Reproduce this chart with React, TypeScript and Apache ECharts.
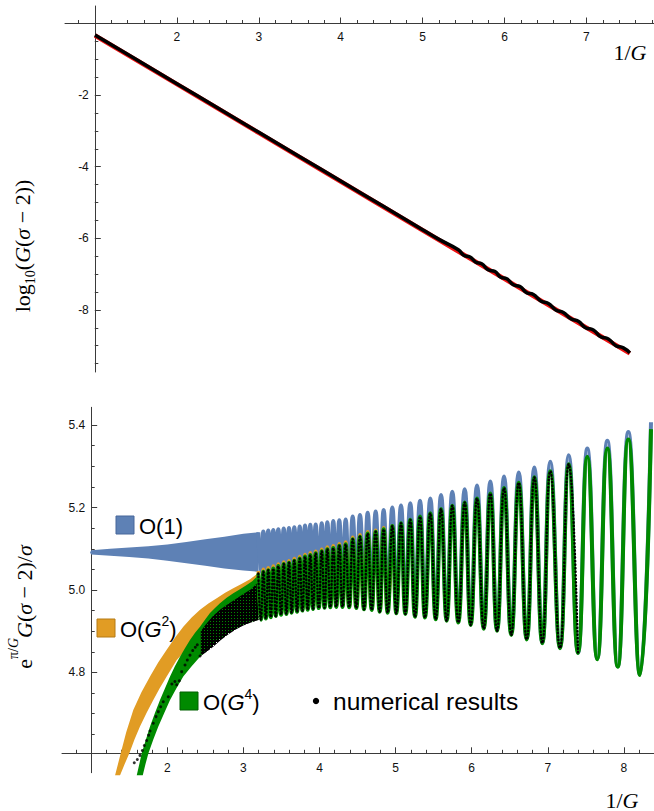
import React, { useEffect, useRef } from 'react';
import * as echarts from 'echarts';

// ---------------- TOP PANEL: log10(G(σ-2)) vs 1/G ----------------
const topNumerical: [number, number][] = [
  [1.0, -0.32], [1.5, -1.0], [2.0, -1.68], [2.5, -2.36], [3.0, -3.04], [3.5, -3.72],
  [4.0, -4.4], [4.5, -5.08], [5.0, -5.76], [5.2, -6.03],
  [5.436, -6.32], [5.507, -6.48], [5.579, -6.52], [5.65, -6.67], [5.721, -6.71], [5.8, -6.88],
  [5.884, -6.93], [5.955, -7.09], [6.027, -7.13], [6.108, -7.3], [6.189, -7.35], [6.27, -7.52],
  [6.352, -7.57], [6.443, -7.75], [6.535, -7.82], [6.626, -8.0], [6.718, -8.07], [6.81, -8.25],
  [6.901, -8.32], [6.99, -8.5], [7.084, -8.56], [7.175, -8.75], [7.267, -8.81], [7.36, -9.0],
  [7.451, -9.06], [7.53, -9.2],
];
const topAnalytic: [number, number][] = [
  [1.0, -0.335], [2.0, -1.695], [3.0, -3.055], [4.0, -4.415], [5.0, -5.775],
  [6.0, -7.135], [7.0, -8.495], [7.53, -9.215],
];

const topXMajorTicks = [1, 2, 3, 4, 5, 6, 7];
const topXLabels = [2, 3, 4, 5, 6, 7];
const topXMinorTicks = [0.8, 1.2, 1.4, 1.6, 1.8, 2.2, 2.4, 2.6, 2.8, 3.2, 3.4, 3.6, 3.8, 4.2, 4.4, 4.6, 4.8,
  5.2, 5.4, 5.6, 5.8, 6.2, 6.4, 6.6, 6.8, 7.2, 7.4, 7.6, 7.8];
const topYMajorTicks = [-2, -4, -6, -8];
const topYMinorTicks = [-0.5, -1, -1.5, -2.5, -3, -3.5, -4.5, -5, -5.5, -6.5, -7, -7.5, -8.5, -9, -9.5];

// ---------------- BOTTOM PANEL: e^{π/G} G(σ-2)/σ vs 1/G ----------------
// dense (unresolved) oscillation envelopes
const blueUpper: [number, number][] = [
  [0.985, 5.091], [1.0, 5.096], [1.25, 5.1], [1.5, 5.103], [1.75, 5.106], [2.0, 5.11], [2.25, 5.116],
  [2.5, 5.123], [2.75, 5.129], [3.0, 5.136], [3.2, 5.14],
];
const blueLower: [number, number][] = [
  [0.985, 5.091], [1.0, 5.086], [1.25, 5.083], [1.5, 5.08], [1.75, 5.076], [2.0, 5.071], [2.25, 5.065],
  [2.5, 5.059], [2.75, 5.052], [3.0, 5.047], [3.2, 5.044],
];
const orangeUpper: [number, number][] = [
  [1.313, 4.55], [1.388, 4.604], [1.46, 4.655], [1.553, 4.709], [1.66, 4.752], [1.773, 4.79], [1.88, 4.824],
  [1.992, 4.855], [2.1, 4.884], [2.21, 4.911], [2.32, 4.933], [2.43, 4.952], [2.54, 4.967], [2.649, 4.98],
  [2.76, 4.993], [2.867, 5.004], [2.98, 5.015], [3.087, 5.026], [3.2, 5.042],
];
const orangeLower: [number, number][] = [
  [1.378, 4.55], [1.44, 4.578], [1.501, 4.604], [1.57, 4.638], [1.641, 4.669], [1.73, 4.703], [1.816, 4.733],
  [1.9, 4.762], [1.992, 4.79], [2.124, 4.83], [2.28, 4.862], [2.43, 4.888], [2.6, 4.91], [2.8, 4.93],
  [3.0, 4.945], [3.2, 4.955],
];
const greenUpper: [number, number][] = [
  [1.598, 4.55], [1.664, 4.604], [1.72, 4.638], [1.773, 4.669], [1.84, 4.703], [1.904, 4.733], [1.97, 4.762],
  [2.036, 4.79], [2.1, 4.815], [2.167, 4.838], [2.232, 4.859], [2.298, 4.879], [2.365, 4.896], [2.43, 4.911],
  [2.5, 4.929], [2.561, 4.944], [2.63, 4.957], [2.692, 4.968], [2.78, 4.981], [2.867, 4.992], [2.955, 5.002],
  [3.043, 5.012], [3.12, 5.022], [3.2, 5.036],
];
const greenLower: [number, number][] = [
  [1.677, 4.55], [1.712, 4.577], [1.752, 4.604], [1.815, 4.637], [1.882, 4.669], [1.96, 4.702], [2.036, 4.733],
  [2.12, 4.762], [2.21, 4.79], [2.32, 4.815], [2.43, 4.838], [2.54, 4.858], [2.649, 4.875], [2.76, 4.89],
  [2.867, 4.903], [2.98, 4.914], [3.087, 4.922], [3.2, 4.928],
];
const numericUpper: [number, number][] = [
  [2.44, 4.9], [2.5, 4.915], [2.6, 4.937], [2.7, 4.953], [2.8, 4.966], [2.9, 4.978], [3.0, 4.99],
  [3.1, 5.002], [3.2, 5.02],
];
const numericLower: [number, number][] = [
  [2.44, 4.84], [2.5, 4.848], [2.6, 4.862], [2.7, 4.878], [2.8, 4.892], [2.9, 4.904], [3.0, 4.914],
  [3.1, 4.921], [3.2, 4.927],
];
// sparse numerical points at small 1/G
const numericSparse: [number, number][] = [
  [1.566, 4.581], [1.606, 4.589], [1.641, 4.599], [1.672, 4.611], [1.698, 4.623], [1.729, 4.635],
  [1.755, 4.648], [1.773, 4.658], [1.816, 4.677], [1.852, 4.693], [1.882, 4.705], [1.913, 4.717],
  [1.947, 4.729], [2.013, 4.741], [2.06, 4.772], [2.1, 4.778], [2.124, 4.77], [2.158, 4.78],
  [2.189, 4.802], [2.233, 4.818], [2.263, 4.83], [2.298, 4.842], [2.334, 4.853], [2.368, 4.861],
  [2.394, 4.867], [2.43, 4.84], [2.47, 4.85], [2.52, 4.86],
];

// resolved oscillations: extrema positions (1/G) and values
const peakX = [3.196, 3.262, 3.327, 3.393, 3.459, 3.53, 3.599, 3.669, 3.74, 3.81, 3.879, 3.95, 4.029, 4.103,
  4.181, 4.26, 4.344, 4.436, 4.532, 4.633, 4.738, 4.843, 4.957, 5.071, 5.193, 5.321, 5.456, 5.597, 5.745,
  5.908, 6.07, 6.245, 6.425, 6.618, 6.823, 7.033, 7.275, 7.519, 7.782, 8.058, 8.356];
const troughX = [3.229, 3.295, 3.36, 3.426, 3.495, 3.565, 3.634, 3.705, 3.775, 3.845, 3.915, 3.99, 4.066,
  4.142, 4.22, 4.302, 4.39, 4.484, 4.585, 4.686, 4.791, 4.896, 5.009, 5.128, 5.255, 5.386, 5.527, 5.671,
  5.824, 5.987, 6.158, 6.333, 6.52, 6.723, 6.928, 7.16, 7.397, 7.65, 7.919, 8.212];
const bluePeakY = [5.14, 5.1415, 5.144, 5.1455, 5.147, 5.149, 5.15, 5.152, 5.154, 5.156, 5.158, 5.159, 5.162,
  5.164, 5.167, 5.169, 5.171, 5.178, 5.182, 5.187, 5.19, 5.194, 5.2, 5.205, 5.21, 5.2165, 5.222, 5.23, 5.238,
  5.244, 5.253, 5.263, 5.275, 5.285, 5.297, 5.311, 5.3265, 5.343, 5.362, 5.383, 5.4065];
const blueTroughY = [5.044, 5.042, 5.04, 5.038, 5.035, 5.033, 5.031, 5.028, 5.026, 5.023, 5.021, 5.018, 5.016,
  5.013, 5.011, 5.009, 5.007, 5.005, 5.0, 4.995, 4.99, 4.985, 4.978, 4.972, 4.965, 4.958, 4.95, 4.942, 4.934,
  4.925, 4.915, 4.905, 4.895, 4.882, 4.872, 4.86, 4.848, 4.834, 4.815, 4.795];
const orangePeakY = [5.046, 5.05, 5.054, 5.058, 5.063, 5.068, 5.071, 5.076, 5.081, 5.086, 5.09, 5.094, 5.099,
  5.104, 5.107, 5.112, 5.116, 5.128, 5.134, 5.141, 5.145, 5.151, 5.158];
const orangeTroughY = [4.931, 4.934, 4.937, 4.94, 4.943, 4.945, 4.948, 4.95, 4.953, 4.955, 4.957, 4.959, 4.96,
  4.961, 4.962, 4.962, 4.961, 4.959, 4.956, 4.955, 4.951, 4.948];
const greenPeakY = [5.04, 5.044, 5.048, 5.052, 5.058, 5.063, 5.066, 5.071, 5.076, 5.081, 5.085, 5.089, 5.094,
  5.099, 5.102, 5.107, 5.111, 5.123, 5.129, 5.137, 5.141, 5.147, 5.155, 5.162, 5.17, 5.178, 5.186, 5.196,
  5.204, 5.212, 5.222, 5.234, 5.247, 5.26, 5.273, 5.288, 5.305, 5.323, 5.343, 5.365, 5.39];
const greenTroughY = [4.928, 4.931, 4.934, 4.937, 4.94, 4.942, 4.945, 4.947, 4.95, 4.952, 4.954, 4.956, 4.957,
  4.958, 4.959, 4.959, 4.958, 4.956, 4.953, 4.9515, 4.9475, 4.945, 4.9435, 4.942, 4.935, 4.933, 4.929, 4.9255,
  4.921, 4.915, 4.906, 4.901, 4.891, 4.88, 4.871, 4.859, 4.847, 4.832, 4.814, 4.794];
const numericEndX = 7.4;

const botXMajorTicks = [1, 2, 3, 4, 5, 6, 7, 8];
const botXLabels = [2, 3, 4, 5, 6, 7, 8];
const botXMinorTicks = [0.8, 1.2, 1.4, 1.6, 1.8, 2.2, 2.4, 2.6, 2.8, 3.2, 3.4, 3.6, 3.8, 4.2, 4.4, 4.6, 4.8,
  5.2, 5.4, 5.6, 5.8, 6.2, 6.4, 6.6, 6.8, 7.2, 7.4, 7.6, 7.8, 8.2];
const botYMajorTicks = [4.8, 5.0, 5.2, 5.4];
const botYMinorTicks = [4.65, 4.7, 4.75, 4.85, 4.9, 4.95, 5.05, 5.1, 5.15, 5.25, 5.3, 5.35];

const BLUE = '#5E81B5';
const ORANGE = '#E19C24';
const GREEN = '#008A00';
const AXIS = '#3a3a3a';
const SANS = '"Liberation Sans", Arial, sans-serif';
const SERIF = '"Liberation Serif", "Times New Roman", serif';

function interleave(py: number[], ty: number[]): [number, number][] {
  const out: [number, number][] = [];
  for (let i = 0; i < py.length; i++) {
    out.push([peakX[i], py[i]]);
    if (i < ty.length) out.push([troughX[i], ty[i]]);
  }
  return out;
}

function band(upper: [number, number][], lower: [number, number][], fill: any) {
  return {
    type: 'custom',
    xAxisIndex: 4,
    yAxisIndex: 4,
    silent: true,
    clip: true,
    data: [upper[0]],
    renderItem: (_p: any, api: any) => {
      const pts = upper.map((p) => api.coord(p)).concat(lower.slice().reverse().map((p) => api.coord(p)));
      return { type: 'polygon', shape: { points: pts }, style: { fill, stroke: null } };
    },
  };
}

function hidden(gridIndex: number, min?: number, max?: number) {
  const a: any = { type: 'value', gridIndex, show: false };
  if (min !== undefined) { a.min = min; a.max = max; }
  return a;
}

function dispAxis(gridIndex: number, pos: string, min: number, max: number, ticks: number[], len: number,
  labels: number[] | null, line: boolean, fmt?: (v: number) => string, margin = 7) {
  return {
    type: 'value', gridIndex, position: pos, min, max,
    axisLine: { show: line, onZero: false, lineStyle: { color: AXIS, width: 1 } },
    axisTick: { show: true, inside: true, length: len, customValues: ticks, lineStyle: { color: AXIS, width: 1 } },
    axisLabel: labels
      ? { show: true, customValues: labels, margin, color: '#111', fontSize: 12, fontFamily: SANS,
          formatter: fmt || ((v: number) => String(v)) }
      : { show: false },
    splitLine: { show: false },
  };
}

function buildOption(dotPattern: any) {
  const TX: [number, number] = [0.634, 7.825];
  const TY: [number, number] = [-9.735, 0.4888];
  const BX: [number, number] = [0.6163, 8.3955];
  const BY: [number, number] = [4.55, 5.445];
  const BYA: [number, number] = [4.557, 5.443];

  const blueLine = interleave(bluePeakY, blueTroughY);
  const orangeLine = interleave(orangePeakY, orangeTroughY);
  const greenLine = interleave(greenPeakY, greenTroughY);
  const numericLine = greenLine.filter((p) => p[0] <= numericEndX);

  const legendText = (x: number, y: number, text: string) => ({
    type: 'text', x, y,
    style: {
      text, align: 'left', verticalAlign: 'middle',
      rich: {
        n: { fontSize: 22, fontFamily: SANS, fill: '#000', lineHeight: 24, verticalAlign: 'top', padding: [5, 0, 0, 0] },
        i: { fontSize: 22, fontFamily: SANS, fontStyle: 'italic', fill: '#000', lineHeight: 24, verticalAlign: 'top', padding: [5, 0, 0, 0] },
        s: { fontSize: 14, fontFamily: SANS, fill: '#000', lineHeight: 14, verticalAlign: 'top' },
      },
    },
  });
  const swatch = (x: number, y: number, fill: string, stroke: string) => ({
    type: 'rect', shape: { x, y, width: 18, height: 18 }, style: { fill, stroke, lineWidth: 1 },
  });
  const serifRich = {
    n: { fontSize: 22, fontFamily: SERIF, fill: '#000', lineHeight: 24, verticalAlign: 'top', padding: [7, 0, 0, 0] },
    i: { fontSize: 22, fontFamily: SERIF, fontStyle: 'italic', fill: '#000', lineHeight: 24, verticalAlign: 'top', padding: [7, 0, 0, 0] },
    sub: { fontSize: 14, fontFamily: SERIF, fill: '#000', lineHeight: 14, verticalAlign: 'top', padding: [19, 0, 0, 0] },
    sup: { fontSize: 14, fontFamily: SERIF, fill: '#000', lineHeight: 14, verticalAlign: 'top' },
    supi: { fontSize: 14, fontFamily: SERIF, fontStyle: 'italic', fill: '#000', lineHeight: 14, verticalAlign: 'top' },
  };

  return {
    animation: false,
    backgroundColor: '#fff',
    grid: [
      { left: 65, top: 6, width: 589, height: 366 },
      { left: 65, top: 0, width: 589, height: 23.5 },
      { left: 94.8, top: 6, width: 10, height: 366 },
      { left: 62, top: 406.4, width: 592, height: 369.2 },
      { left: 62, top: 740, width: 592, height: 13.3 },
      { left: 91.2, top: 407.3, width: 10, height: 365.4 },
    ],
    xAxis: [
      hidden(0, TX[0], TX[1]),
      dispAxis(1, 'bottom', TX[0], TX[1], topXMajorTicks, 6, topXLabels, true, undefined, 7),
      dispAxis(1, 'bottom', TX[0], TX[1], topXMinorTicks, 3.5, null, false),
      hidden(2),
      hidden(3, BX[0], BX[1]),
      dispAxis(4, 'bottom', BX[0], BX[1], botXMajorTicks, 6, botXLabels, true, undefined, 9),
      dispAxis(4, 'bottom', BX[0], BX[1], botXMinorTicks, 3.5, null, false),
      hidden(5),
    ],
    yAxis: [
      hidden(0, TY[0], TY[1]),
      hidden(1),
      dispAxis(2, 'left', TY[0], TY[1], topYMajorTicks, 6, topYMajorTicks, true, undefined, 6),
      dispAxis(2, 'left', TY[0], TY[1], topYMinorTicks, 3.5, null, false),
      hidden(3, BY[0], BY[1]),
      hidden(4),
      dispAxis(5, 'left', BYA[0], BYA[1], botYMajorTicks, 6, botYMajorTicks, true, (v: number) => v.toFixed(1), 6),
      dispAxis(5, 'left', BYA[0], BYA[1], botYMinorTicks, 3.5, null, false),
    ],
    series: [
      { type: 'line', xAxisIndex: 0, yAxisIndex: 0, data: topAnalytic, symbol: 'none', silent: true,
        lineStyle: { color: '#ee1111', width: 4.5 } },
      { type: 'line', xAxisIndex: 0, yAxisIndex: 0, data: topNumerical, symbol: 'none', silent: true, smooth: 0.5,
        lineStyle: { color: '#000', width: 3.5 } },

      band(blueUpper, blueLower, BLUE),
      { type: 'line', xAxisIndex: 4, yAxisIndex: 4, data: blueLine, symbol: 'none', silent: true, smooth: 0.5,
        lineStyle: { color: BLUE, width: 4 } },
      band(orangeUpper, orangeLower, ORANGE),
      { type: 'line', xAxisIndex: 4, yAxisIndex: 4, data: orangeLine, symbol: 'none', silent: true, smooth: 0.5,
        lineStyle: { color: ORANGE, width: 3.5 } },
      band(greenUpper, greenLower, GREEN),
      { type: 'line', xAxisIndex: 4, yAxisIndex: 4, data: greenLine, symbol: 'none', silent: true, smooth: 0.5,
        lineStyle: { color: GREEN, width: 4 } },
      band(numericUpper, numericLower, dotPattern),
      { type: 'line', xAxisIndex: 4, yAxisIndex: 4, data: numericLine, symbol: 'none', silent: true, smooth: 0.5,
        lineStyle: { color: '#000', width: 2.4, type: [0.5, 3], cap: 'round' } },
      { type: 'scatter', xAxisIndex: 4, yAxisIndex: 4, data: numericSparse, symbol: 'circle', symbolSize: 3,
        silent: true, itemStyle: { color: '#000' } },
    ],
    graphic: [
      { type: 'text', x: 16, y: 246, rotation: Math.PI / 2,
        style: { text: '{n|log}{sub|10}{n|(}{i|G}{n|(}{i|σ}{n| − 2))}', align: 'center', verticalAlign: 'middle', rich: serifRich } },
      { type: 'text', x: 18, y: 607, rotation: Math.PI / 2,
        style: { text: '{n|e}{sup|π/}{supi|G}{i|G}{n|(}{i|σ}{n| − 2)/}{i|σ}', align: 'center', verticalAlign: 'middle', rich: serifRich } },
      { type: 'text', x: 630, y: 46,
        style: { text: '{n|1/}{i|G}', align: 'center', verticalAlign: 'middle', rich: serifRich } },
      { type: 'text', x: 622, y: 794,
        style: { text: '{n|1/}{i|G}', align: 'center', verticalAlign: 'middle', rich: serifRich } },

      swatch(116, 516, BLUE, '#46679a'),
      legendText(139, 522.5, '{n|O(1)}'),
      swatch(97, 619, ORANGE, '#b57b15'),
      legendText(120, 625.5, '{n|O(}{i|G}{s|2}{n|)}'),
      swatch(180, 692, GREEN, '#006000'),
      legendText(203, 698.5, '{n|O(}{i|G}{s|4}{n|)}'),
      { type: 'circle', shape: { cx: 316, cy: 701, r: 3.2 }, style: { fill: '#000' } },
      { type: 'text', x: 333, y: 701,
        style: { text: 'numerical results', align: 'left', verticalAlign: 'middle', fontSize: 24.5, fontFamily: SANS, fill: '#000' } },
    ],
  };
}

export default function App() {
  const ref = useRef<HTMLDivElement>(null);
  useEffect(() => {
    document.body.style.margin = '0';
    const c = document.createElement('canvas');
    c.width = 3; c.height = 3;
    const ctx = c.getContext('2d');
    if (ctx) {
      ctx.fillStyle = '#000';
      ctx.fillRect(0, 0, 3, 3);
      ctx.clearRect(0, 0, 1, 1);
    }
    const pattern = { image: c.toDataURL(), repeat: 'repeat', imageWidth: 3, imageHeight: 3 };
    const chart = echarts.init(ref.current as HTMLDivElement, null, { renderer: 'svg' });
    chart.setOption(buildOption(pattern) as any);
    return () => chart.dispose();
  }, []);
  return <div ref={ref} style={{ width: 654, height: 811 }} />;
}
